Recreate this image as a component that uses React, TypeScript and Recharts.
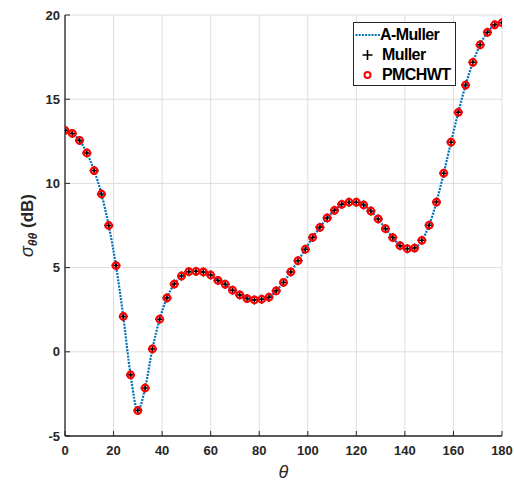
import React from "react";
import { ComposedChart, Line, XAxis, YAxis, CartesianGrid, Legend } from "recharts";

// scattering angle, degrees
const thetaDeg = [
  0, 3, 6, 9, 12, 15, 18, 21, 24, 27, 30, 33, 36, 39, 42, 45, 48, 51, 54, 57, 60,
  63, 66, 69, 72, 75, 78, 81, 84, 87, 90, 93, 96, 99, 102, 105, 108, 111, 114, 117, 120,
  123, 126, 129, 132, 135, 138, 141, 144, 147, 150, 153, 156, 159, 162, 165, 168, 171, 174, 177, 180,
];

// sigma_theta-theta (dB) -- the three solvers overlap at this scale
const sigmaDb = [
  13.15, 12.97, 12.55, 11.81, 10.76, 9.37, 7.5, 5.12, 2.1, -1.37, -3.49, -2.15, 0.17, 1.94, 3.2, 4.02, 4.5, 4.76, 4.78, 4.74, 4.56,
  4.24, 4.01, 3.66, 3.38, 3.16, 3.08, 3.12, 3.24, 3.62, 4.12, 4.74, 5.41, 6.09, 6.79, 7.39, 7.95, 8.4, 8.76, 8.88, 8.88,
  8.72, 8.36, 7.89, 7.31, 6.78, 6.3, 6.12, 6.16, 6.62, 7.52, 8.89, 10.61, 12.45, 14.22, 15.84, 17.19, 18.23, 18.97, 19.42, 19.54,
];

const xTicks = [0, 20, 40, 60, 80, 100, 120, 140, 160, 180];
const yTicks = [-5, 0, 5, 10, 15, 20];
const seriesNames = ["A-Muller", "Muller", "PMCHWT"];

const data = thetaDeg.map((t, i) => ({
  theta: t,
  aMuller: sigmaDb[i],
  muller: sigmaDb[i],
  pmchwt: sigmaDb[i],
}));

const AXIS = "#262626";
const BLUE = "#0072BD";
const FONT = "'Liberation Sans', Arial, Helvetica, sans-serif";
const tickText = { fontFamily: FONT, fontSize: 13, fontWeight: 700, fill: AXIS };

const BottomTick = ({ x, y, payload }: any) => (
  <g>
    <line x1={x} y1={y} x2={x} y2={y - 5} stroke={AXIS} />
    <text x={x} y={y + 18.5} textAnchor="middle" {...tickText}>
      {payload.value}
    </text>
  </g>
);
const TopTick = ({ x, y }: any) => <line x1={x} y1={y} x2={x} y2={y + 5} stroke={AXIS} />;
const LeftTick = ({ x, y, payload }: any) => (
  <g>
    <line x1={x} y1={y} x2={x + 5} y2={y} stroke={AXIS} />
    <text x={x - 5} y={y + 4.5} textAnchor="end" {...tickText}>
      {payload.value}
    </text>
  </g>
);
const RightTick = ({ x, y }: any) => <line x1={x} y1={y} x2={x - 5} y2={y} stroke={AXIS} />;

const plusDot = (p: any) => (
  <path
    key={`plus-${p.index}`}
    d={`M${p.cx - 4.5},${p.cy}H${p.cx + 4.5}M${p.cx},${p.cy - 4.5}V${p.cy + 4.5}`}
    stroke="#000"
    strokeWidth={1.5}
  />
);
const ringDot = (p: any) => (
  <circle key={`ring-${p.index}`} cx={p.cx} cy={p.cy} r={3.3} stroke="#ff0000" strokeWidth={2.2} fill="none" />
);

const YLabel = ({ viewBox }: any) => {
  const cx = 33;
  const cy = viewBox.y + viewBox.height / 2;
  return (
    <text
      x={cx}
      y={cy}
      transform={`rotate(-90, ${cx}, ${cy})`}
      textAnchor="middle"
      fontFamily={FONT}
      fontSize={17}
      fontWeight={700}
      fill={AXIS}
    >
      <tspan fontStyle="italic" fontWeight={400} fontSize={18}>σ</tspan>
      <tspan fontStyle="italic" fontSize={12} dy={4}>θθ</tspan>
      <tspan dy={-4}> (dB)</tspan>
    </text>
  );
};

const XLabel = ({ viewBox }: any) => (
  <text
    x={viewBox.x + viewBox.width / 2}
    y={478}
    textAnchor="middle"
    fontFamily={FONT}
    fontSize={18}
    fontStyle="italic"
    fill={AXIS}
  >
    θ
  </text>
);

const LegendBox = () => {
  const row: React.CSSProperties = { display: "flex", alignItems: "center", height: 20 };
  return (
    <div
      style={{
        border: `1.3px solid ${AXIS}`,
        background: "#fff",
        width: 103,
        height: 64,
        boxSizing: "border-box",
        paddingTop: 2,
        fontFamily: FONT,
        fontWeight: 700,
        fontSize: 16,
        color: "#000",
        letterSpacing: -0.6,
        whiteSpace: "nowrap",
      }}
    >
      <div style={row}>
        <svg width={26} height={20}>
          <line x1={1.5} y1={10} x2={26} y2={10} stroke={BLUE} strokeWidth={2.2} strokeDasharray="2 1.2" />
        </svg>
        <span>{seriesNames[0]}</span>
      </div>
      <div style={row}>
        <svg width={28} height={20}>
          <path d="M8.5,10H18.5M13.5,5V15" stroke="#000" strokeWidth={1.6} />
        </svg>
        <span>{seriesNames[1]}</span>
      </div>
      <div style={row}>
        <svg width={28} height={20}>
          <circle cx={13.5} cy={10} r={3} stroke="#ff0000" strokeWidth={2} fill="none" />
        </svg>
        <span>{seriesNames[2]}</span>
      </div>
    </div>
  );
};

export default function App() {
  return (
    <div style={{ position: "absolute", left: 0, top: 0, background: "#fff" }}>
      <ComposedChart width={514} height={481} data={data} margin={{ top: 15, right: 12, left: 0, bottom: 0 }}>
        <CartesianGrid stroke="#dedede" strokeWidth={1} />
        <XAxis
          dataKey="theta"
          type="number"
          domain={[0, 180]}
          ticks={xTicks}
          height={45}
          tickSize={0}
          tickMargin={0}
          tickLine={false}
          tick={<BottomTick />}
          axisLine={{ stroke: AXIS, strokeWidth: 1.3 }}
          label={<XLabel />}
          allowDataOverflow
        />
        <XAxis
          xAxisId="top"
          orientation="top"
          dataKey="theta"
          type="number"
          domain={[0, 180]}
          ticks={xTicks}
          height={0}
          tickSize={0}
          tickMargin={0}
          tickLine={false}
          tick={<TopTick />}
          axisLine={{ stroke: AXIS, strokeWidth: 1.3 }}
          allowDataOverflow
        />
        <YAxis
          type="number"
          domain={[-5, 20]}
          ticks={yTicks}
          width={65}
          tickSize={0}
          tickMargin={0}
          tickLine={false}
          tick={<LeftTick />}
          axisLine={{ stroke: AXIS, strokeWidth: 1.3 }}
          label={<YLabel />}
          allowDataOverflow
        />
        <YAxis
          yAxisId="right"
          orientation="right"
          type="number"
          domain={[-5, 20]}
          ticks={yTicks}
          width={0}
          tickSize={0}
          tickMargin={0}
          tickLine={false}
          tick={<RightTick />}
          axisLine={{ stroke: AXIS, strokeWidth: 1.3 }}
          allowDataOverflow
        />
        <Legend
          layout="vertical"
          align="center"
          verticalAlign="middle"
          content={<LegendBox />}
          wrapperStyle={{ left: 353, top: 22, width: 103, height: 64 }}
        />
        <Line
          dataKey="aMuller"
          name={seriesNames[0]}
          type="monotone"
          stroke={BLUE}
          strokeWidth={2.2}
          strokeDasharray="2 1.2"
          dot={false}
          activeDot={false}
          isAnimationActive={false}
        />
        <Line
          dataKey="muller"
          name={seriesNames[1]}
          stroke="none"
          dot={plusDot}
          activeDot={false}
          isAnimationActive={false}
        />
        <Line
          dataKey="pmchwt"
          name={seriesNames[2]}
          stroke="none"
          dot={ringDot}
          activeDot={false}
          isAnimationActive={false}
        />
      </ComposedChart>
    </div>
  );
}
